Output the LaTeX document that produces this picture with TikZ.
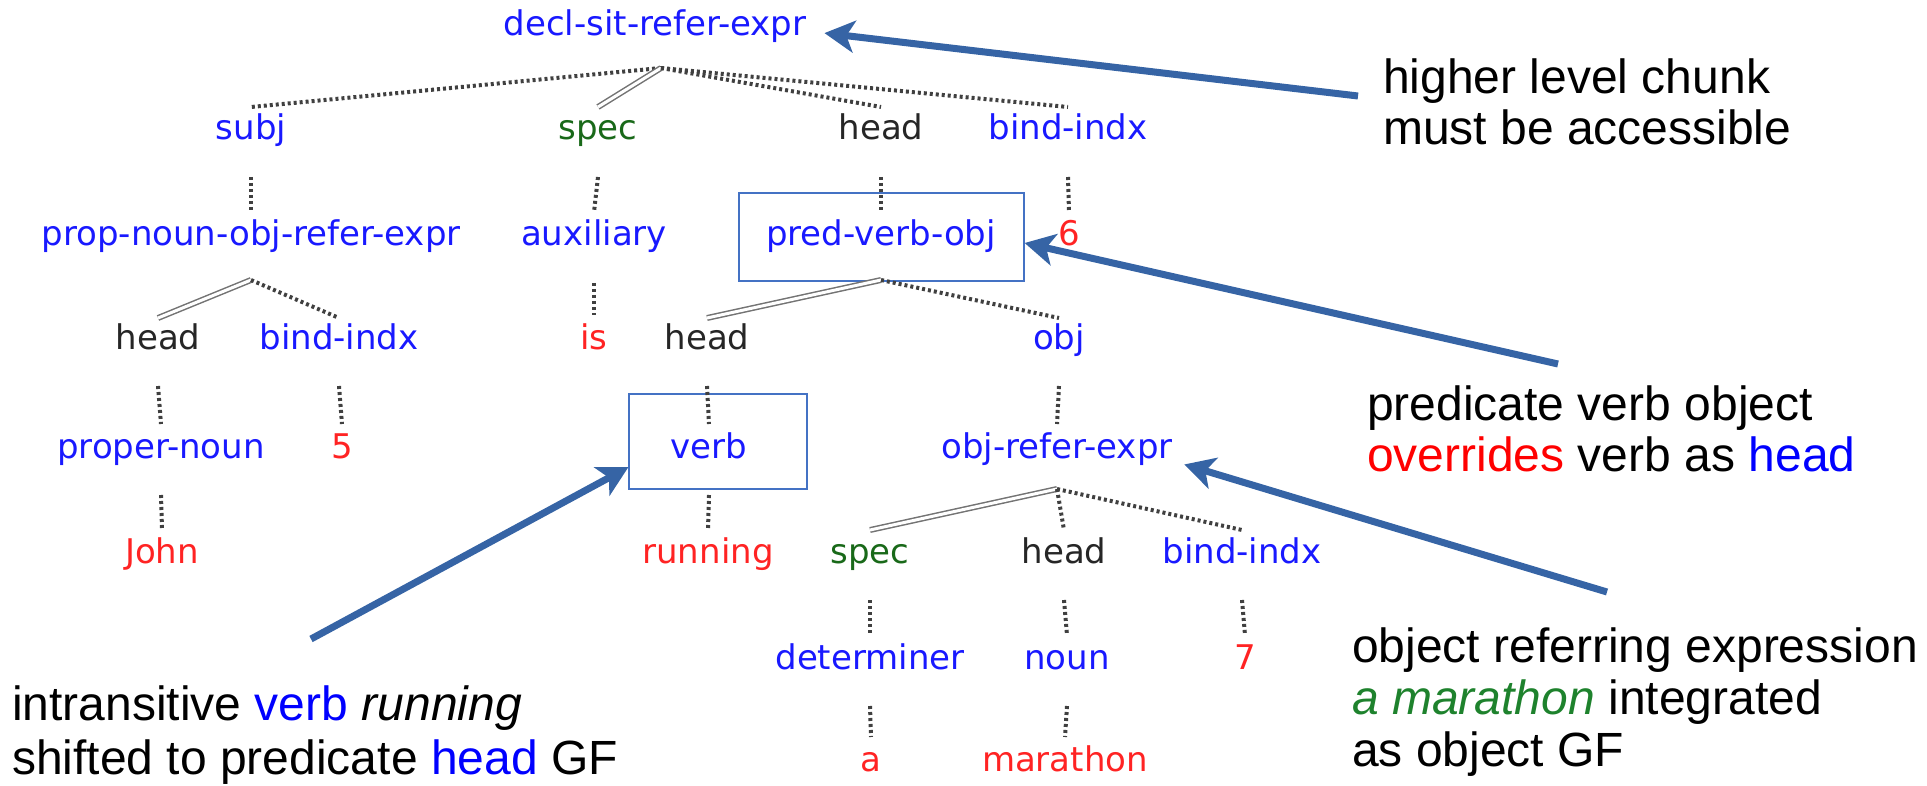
\documentclass[tikz,border=0pt]{standalone}
\usepackage{fontspec}
\setmainfont{Liberation Sans}
\newfontfamily\treefont{DejaVu Sans}
\usetikzlibrary{arrows.meta}
\definecolor{tblue}{RGB}{25,25,255}
\definecolor{tred}{RGB}{255,35,35}
\definecolor{tgreen}{RGB}{25,105,25}
\definecolor{agreen}{RGB}{30,130,45}
\definecolor{arrblue}{RGB}{54,100,165}
\definecolor{boxblue}{RGB}{68,114,196}
\tikzset{
  t/.style={font=\treefont\fontsize{34}{40}\selectfont, inner sep=0pt, text height=25pt, text depth=7pt},
  tb/.style={t, text=tblue},
  tr/.style={t, text=tred},
  tg/.style={t, text=tgreen},
  tk/.style={t, text=black!85},
  dotl/.style={line width=4pt, dash pattern=on 3pt off 3pt, black!75},
  dbl/.style={double=white, double distance=3pt, line width=1.5pt, black!55},
  note/.style={font=\fontsize{48}{51}\selectfont, align=left, anchor=west, inner sep=0pt},
  callout/.style={arrblue, line width=7pt, -{Stealth[length=30pt,width=32pt,inset=8pt]}},
  hbox/.style={draw=boxblue, line width=1.3pt, inner sep=0pt},
}
\begin{document}
\begin{tikzpicture}[x=1pt,y=-1pt]
\useasboundingbox (0,0) rectangle (1927,786);
% boxes
\node[hbox, minimum width=285pt, minimum height=88pt] (pvobox) at (881.5,237) {};
\node[hbox, minimum width=178pt, minimum height=95pt] (verbbox) at (718,441.5) {};
% tree nodes
\node[tb] (root) at (655,27) {decl-sit-refer-expr};
\node[tb] (subj) at (251,131) {subj};
\node[tg] (spec1) at (598,131) {spec};
\node[tk] (head1) at (881,131) {head};
\node[tb] (bind1) at (1068,131) {bind-indx};
\node[tb] (pnoure) at (251,237) {prop-noun-obj-refer-expr};
\node[tb] (aux) at (594,237) {auxiliary};
\node[tb] (pvo) at (881,237) {pred-verb-obj};
\node[tr] (six) at (1069,237) {6};
\node[tk] (head2) at (158,340) {head};
\node[tb] (bind2) at (339,340) {bind-indx};
\node[tr] (is) at (594,340) {is};
\node[tk] (head3) at (707,340) {head};
\node[tb] (obj) at (1059,340) {obj};
\node[tb] (pn) at (161,449) {proper-noun};
\node[tr] (five) at (342,449) {5};
\node[tb] (verb) at (709,449) {verb};
\node[tb] (ore) at (1057,449) {obj-refer-expr};
\node[tr] (john) at (162,554) {John};
\node[tr] (running) at (708,554) {running};
\node[tg] (spec2) at (870,554) {spec};
\node[tk] (head4) at (1064,554) {head};
\node[tb] (bind3) at (1242,554) {bind-indx};
\node[tb] (det) at (870,660) {determiner};
\node[tb] (noun) at (1067,660) {noun};
\node[tr] (seven) at (1245,660) {7};
\node[tr] (a) at (871,762) {a};
\node[tr] (marathon) at (1065,762) {marathon};
% hubs
\coordinate (rooth) at ([xshift=6pt,yshift=-41pt]root.center);
\coordinate (pnoureh) at ([yshift=-43pt]pnoure.center);
\coordinate (pvoh) at ([yshift=-43pt]pvo.center);
\coordinate (oreh) at ([yshift=-40pt]ore.center);
% branches
\draw[dotl] (rooth) -- ([yshift=24pt]subj.center);
\draw[dbl] (rooth) -- ([yshift=24pt]spec1.center);
\draw[dotl] (rooth) -- ([yshift=24pt]head1.center);
\draw[dotl] (rooth) -- ([yshift=24pt]bind1.center);
\draw[dbl] (pnoureh) -- ([yshift=22pt]head2.center);
\draw[dotl] (pnoureh) -- ([yshift=22pt]bind2.center);
\draw[dbl] (pvoh) -- ([yshift=22pt]head3.center);
\draw[dotl] (pvoh) -- ([yshift=22pt]obj.center);
\draw[dbl] (oreh) -- ([yshift=24pt]spec2.center);
\draw[dotl] (oreh) -- ([yshift=24pt]head4.center);
\draw[dotl] (oreh) -- ([yshift=24pt]bind3.center);
% verticals
\foreach \p/\c in {subj/pnoure, spec1/aux, head1/pvo, bind1/six, aux/is, head2/pn, bind2/five, head3/verb, obj/ore, pn/john, verb/running, spec2/det, head4/noun, bind3/seven, det/a, noun/marathon}
  \draw[dotl] ([yshift=-46pt]\p.center) -- ([yshift=25pt]\c.center);
% notes
\node[note] (n1) at (1383,102) {higher level chunk\\must be accessible};
\node[note] (n2) at (1367,429) {predicate verb object\\\textcolor{red}{overrides} verb as \textcolor{blue}{head}};
\node[note, font=\fontsize{48}{54}\selectfont] (n3) at (12,735) {intransitive \textcolor{blue}{verb} \textit{running}\\shifted to predicate \textcolor{blue}{head} GF};
\node[note, font=\fontsize{48}{52}\selectfont] (n4) at (1352,702) {object referring expression\\\textcolor{agreen}{\textit{a marathon}} integrated\\as object GF};
% callouts
\coordinate (c1) at (1358,96);
\coordinate (c2) at (1558,364);
\coordinate (c3) at (311,639);
\coordinate (c4) at (1607,592);
\draw[callout, shorten >=18pt] (c1) -- ([yshift=-4pt]root.east);
\draw[callout] (c2) -- ([yshift=-6pt]pvobox.east);
\draw[callout] (c3) -- (verbbox.196);
\draw[callout, shorten >=12pt] (c4) -- ([yshift=-12pt]ore.east);
\end{tikzpicture}
\end{document}
